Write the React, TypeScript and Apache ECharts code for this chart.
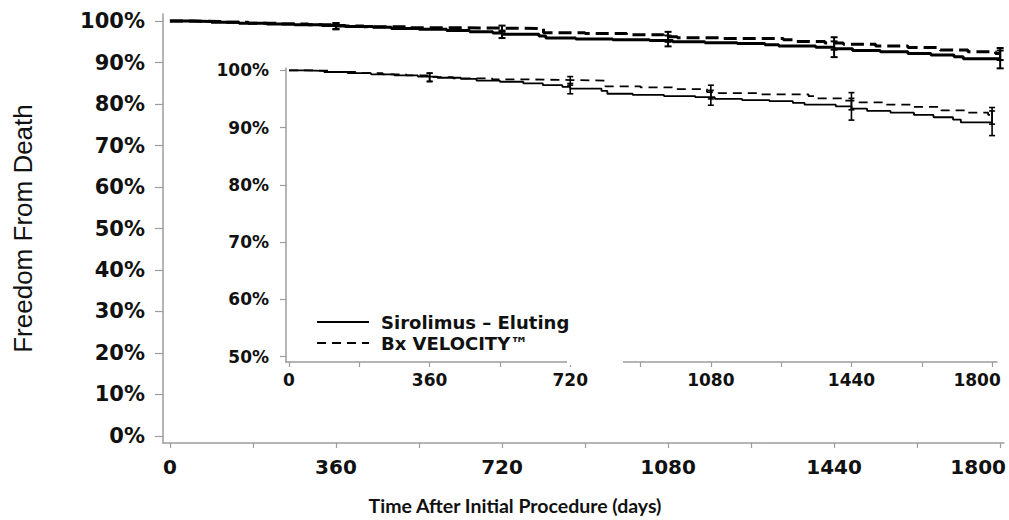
import React, { useEffect, useRef } from 'react';
import * as echarts from 'echarts';

// ---------- data ----------
const xTickDays = [0, 180, 360, 540, 720, 900, 1080, 1260, 1440, 1620, 1800];
const xLabelDays = [0, 360, 720, 1080, 1440, 1800];
const yTicksMain = [0, 10, 20, 30, 40, 50, 60, 70, 80, 90, 100];
const yTicksInset = [50, 60, 70, 80, 90, 100];

const seriesNames = ['Sirolimus – Eluting', 'Bx VELOCITY™'];

// Kaplan-Meier steps: [day, freedom from death %]
const sirolimusSteps: [number, number][] = [
  [0, 100], [40, 99.9], [90, 99.7], [150, 99.5], [210, 99.3], [270, 99.1], [330, 98.9],
  [380, 98.7], [440, 98.5], [480, 98.2], [540, 98.0], [600, 97.7], [650, 97.4], [700, 97.1],
  [720, 96.8], [800, 96.4], [815, 95.9], [880, 95.7], [960, 95.5], [1040, 95.3], [1090, 95.0],
  [1160, 94.8], [1230, 94.6], [1290, 94.3], [1320, 94.0], [1400, 93.7], [1440, 93.3],
  [1480, 92.9], [1540, 92.6], [1600, 92.2], [1650, 91.8], [1700, 91.4], [1720, 90.9], [1800, 90.8],
];

const velocitySteps: [number, number][] = [
  [0, 100], [50, 99.9], [110, 99.7], [170, 99.5], [240, 99.3], [300, 99.1], [360, 98.8],
  [420, 98.6], [520, 98.4], [620, 98.3], [720, 98.2], [810, 97.2], [900, 97.0], [990, 96.7],
  [1070, 96.2], [1100, 96.0], [1200, 95.8], [1330, 95.5], [1350, 95.1], [1420, 94.7],
  [1460, 94.4], [1530, 94.0], [1600, 93.6], [1670, 93.0], [1730, 92.6], [1790, 92.2], [1800, 92.1],
];

// confidence intervals: [day, lower %, upper %]
const sirolimusCI: [number, number, number][] = [
  [360, 98.0, 99.5], [720, 95.9, 97.7], [1080, 93.9, 96.5], [1440, 91.3, 95.1], [1800, 88.6, 92.9],
];
const velocityCI: [number, number, number][] = [
  [360, 98.1, 99.5], [720, 97.4, 98.9], [1080, 95.0, 97.4], [1440, 93.1, 96.1], [1800, 90.6, 93.5],
];

// ---------- styles ----------
const LABEL_FONT = "'DejaVu Sans', 'Liberation Sans', sans-serif";
const AXIS_GRAY = '#9c9c9c';
const INK = '#111';

function errorBars(capHalf: number, lw: number) {
  return (params: any, api: any) => {
    const x = api.value(0);
    const lo = api.coord([x, api.value(1)]);
    const hi = api.coord([x, api.value(2)]);
    const st = { stroke: '#000', lineWidth: lw };
    return {
      type: 'group',
      children: [
        { type: 'line', shape: { x1: lo[0], y1: lo[1], x2: hi[0], y2: hi[1] }, style: st },
        { type: 'line', shape: { x1: lo[0] - capHalf, y1: lo[1], x2: lo[0] + capHalf, y2: lo[1] }, style: st },
        { type: 'line', shape: { x1: hi[0] - capHalf, y1: hi[1], x2: hi[0] + capHalf, y2: hi[1] }, style: st },
      ],
    };
  };
}

function xAxisCfg(grid: number, min: number, max: number, fontSize: number, margin: number, lastPad: number) {
  return {
    gridIndex: grid,
    type: 'value',
    min,
    max,
    splitLine: { show: false },
    axisLine: { show: true, onZero: false, lineStyle: { color: AXIS_GRAY, width: 1.5 } },
    axisTick: { show: true, customValues: xTickDays, length: 5, lineStyle: { color: AXIS_GRAY, width: 1.2 } },
    axisLabel: {
      customValues: xLabelDays,
      margin,
      fontFamily: LABEL_FONT,
      fontWeight: 'bold',
      fontSize,
      color: INK,
      formatter: (v: number) => (v === 1800 ? `{last|${v}}` : `${v}`),
      rich: {
        last: { padding: [0, lastPad, 0, 0], fontFamily: LABEL_FONT, fontWeight: 'bold', fontSize, color: INK },
      },
    },
  };
}

function yAxisCfg(grid: number, min: number, max: number, ticks: number[], fontSize: number, margin: number, tickLen: number) {
  return {
    gridIndex: grid,
    type: 'value',
    min,
    max,
    splitLine: { show: false },
    axisLine: { show: true, onZero: false, lineStyle: { color: AXIS_GRAY, width: 1.5 } },
    axisTick: { show: true, customValues: ticks, length: tickLen, lineStyle: { color: AXIS_GRAY, width: 1.2 } },
    axisLabel: {
      customValues: ticks,
      margin,
      fontFamily: LABEL_FONT,
      fontWeight: 'bold',
      fontSize,
      color: INK,
      formatter: '{value}%',
    },
  };
}

export default function App() {
  const ref = useRef<HTMLDivElement>(null);

  useEffect(() => {
    if (!ref.current) return;
    const chart = echarts.init(ref.current, undefined, { renderer: 'svg' });

    const mainY: any = yAxisCfg(0, -1.7, 101.7, yTicksMain, 21, 18, 8);
    mainY.name = 'Freedom From Death';
    mainY.nameLocation = 'middle';
    mainY.nameRotate = 90;
    mainY.nameGap = 127;
    mainY.nameTextStyle = {
      fontFamily: "'Liberation Sans', Arial, sans-serif",
      fontSize: 26,
      color: INK,
    };

    const option: any = {
      animation: false,
      backgroundColor: '#ffffff',
      grid: [
        { left: 163, top: 14, width: 846, height: 429 },
        { left: 286, top: 68, width: 711, height: 294 },
      ],
      xAxis: [
        xAxisCfg(0, -15, 1808, 20, 14, 44),
        xAxisCfg(1, -7.7, 1812.6, 17, 9, 30),
      ],
      yAxis: [mainY, yAxisCfg(1, 49.07, 100.4, yTicksInset, 17, 17, 6)],
      legend: {
        data: seriesNames,
        orient: 'vertical',
        left: 316,
        top: 313,
        padding: 0,
        itemWidth: 52,
        itemHeight: 18,
        itemGap: 3,
        itemStyle: { opacity: 0 },
        textStyle: {
          fontFamily: LABEL_FONT,
          fontWeight: 'bold',
          fontSize: 18,
          lineHeight: 18,
          color: INK,
          padding: [0, 0, 0, 7],
        },
      },
      series: [
        {
          name: 'main-sirolimus',
          type: 'line',
          xAxisIndex: 0,
          yAxisIndex: 0,
          step: 'end',
          symbol: 'none',
          data: sirolimusSteps,
          lineStyle: { color: '#000', width: 3 },
        },
        {
          name: 'main-velocity',
          type: 'line',
          xAxisIndex: 0,
          yAxisIndex: 0,
          step: 'end',
          symbol: 'none',
          data: velocitySteps,
          lineStyle: { color: '#000', width: 3, type: [13, 6] },
        },
        {
          name: 'main-ci',
          type: 'custom',
          xAxisIndex: 0,
          yAxisIndex: 0,
          renderItem: errorBars(3.5, 2),
          data: [...sirolimusCI, ...velocityCI],
        },
        {
          name: seriesNames[0],
          type: 'line',
          xAxisIndex: 1,
          yAxisIndex: 1,
          step: 'end',
          symbol: 'none',
          data: sirolimusSteps,
          lineStyle: { color: '#000', width: 1.8 },
          itemStyle: { color: '#000', opacity: 0 },
        },
        {
          name: seriesNames[1],
          type: 'line',
          xAxisIndex: 1,
          yAxisIndex: 1,
          step: 'end',
          symbol: 'none',
          data: velocitySteps,
          lineStyle: { color: '#000', width: 1.8, type: [9, 6] },
          itemStyle: { color: '#000', opacity: 0 },
        },
        {
          name: 'inset-ci',
          type: 'custom',
          xAxisIndex: 1,
          yAxisIndex: 1,
          renderItem: errorBars(3, 1.6),
          data: [...sirolimusCI, ...velocityCI],
        },
      ],
      graphic: [
        {
          type: 'rect',
          z: 100,
          shape: { x: 567, y: 359, width: 56, height: 6 },
          style: { fill: '#ffffff' },
        },
        {
          type: 'text',
          x: 515,
          y: 505,
          style: {
            text: 'Time After Initial Procedure (days)',
            align: 'center',
            verticalAlign: 'middle',
            fontFamily: "Lato, 'Open Sans', sans-serif",
            fontWeight: 'bold',
            fontSize: 19.5,
            fill: INK,
          },
        },
      ],
    };

    chart.setOption(option);
    return () => chart.dispose();
  }, []);

  return (
    <div
      ref={ref}
      style={{ position: 'absolute', left: 0, top: 0, width: 1009, height: 520, background: '#fff' }}
    />
  );
}
